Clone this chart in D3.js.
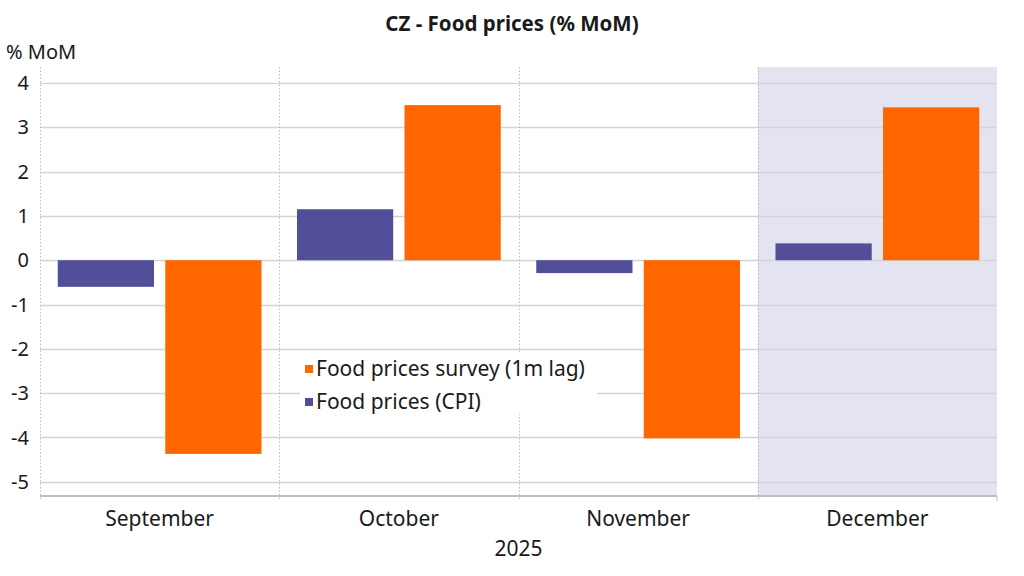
<!DOCTYPE html>
<html><head><meta charset="utf-8">
<script src="https://cdn.jsdelivr.net/npm/d3@7"></script>
<style>body{margin:0;background:#fff}svg{display:block}text{font-family:"Noto Sans",sans-serif;fill:#1a1a1a}</style>
</head><body><svg id="c" width="1024" height="576"></svg>
<script>
const categories = ["September","October","November","December"];
const seriesNames = ["Food prices (CPI)","Food prices survey (1m lag)"];
const cpiValues = [-0.6, 1.15, -0.29, 0.38];
const surveyValues = [-4.37, 3.5, -4.02, 3.45];
const yTicks = [4,3,2,1,0,-1,-2,-3,-4,-5];
const shadedCategories = ["December"];
const colors = ["#524E99","#FF6600"];

const svg = d3.select("#c");
const L=40, R=997, T=67, B=496;
const x = d3.scaleBand().domain(categories).range([L,R]).paddingInner(0).paddingOuter(0);
const xs = d3.scaleBand().domain(seriesNames).range([0,x.bandwidth()]).paddingInner(0.105).paddingOuter(0.165);
const y = d3.scaleLinear().domain([-5.32,4.36]).range([B,T]);

svg.selectAll("rect.shade").data(shadedCategories).join("rect")
  .attr("x",d=>x(d)).attr("y",T).attr("width",x.bandwidth()).attr("height",B-T).attr("fill","#E4E3F2");

svg.append("g").selectAll("line").data(yTicks).join("line")
  .attr("x1",L).attr("x2",R).attr("y1",d=>Math.round(y(d))+0.5).attr("y2",d=>Math.round(y(d))+0.5)
  .attr("stroke","#d4d4d4").attr("stroke-width",1.3);

const seps = [L].concat(categories.slice(1).map(c=>x(c)));
svg.append("g").selectAll("line").data(seps).join("line")
  .attr("x1",d=>Math.round(d)+0.5).attr("x2",d=>Math.round(d)+0.5).attr("y1",T).attr("y2",B+4)
  .attr("stroke","#bdbdbd").attr("stroke-width",1).attr("stroke-dasharray","1.5,2");

const data = categories.map((c,i)=>({c, vals:[cpiValues[i], surveyValues[i]]}));
const g = svg.append("g");
data.forEach(d=>{
  d.vals.forEach((v,j)=>{
    g.append("rect").attr("x",x(d.c)+xs(seriesNames[j])).attr("width",xs.bandwidth())
     .attr("y",y(Math.max(0,v))).attr("height",Math.abs(y(v)-y(0))).attr("fill",colors[j]);
  });
});

svg.append("line").attr("x1",L).attr("x2",R).attr("y1",B).attr("y2",B).attr("stroke","#bfbfbf").attr("stroke-width",2);
svg.append("line").attr("x1",R).attr("x2",R).attr("y1",B).attr("y2",B+5).attr("stroke","#bfbfbf").attr("stroke-width",1);

svg.append("g").selectAll("text").data(yTicks).join("text")
  .attr("x",29).attr("y",d=>y(d)).attr("dy","0.35em").attr("text-anchor","end")
  .style("font-size","20px").text(d=>d);

svg.append("g").selectAll("text").data(categories).join("text")
  .attr("x",d=>x(d)+x.bandwidth()/2).attr("y",519).attr("dy","0.35em").attr("text-anchor","middle")
  .style("font-size","21px").text(d=>d);
svg.append("text").attr("x",(L+R)/2).attr("y",549).attr("dy","0.35em").attr("text-anchor","middle").style("font-size","21px").text("2025");

svg.append("text").attr("x",512).attr("y",24).attr("dy","0.35em").attr("text-anchor","middle").style("font-size","20.5px").style("font-weight","bold").text("CZ - Food prices (% MoM)");
svg.append("text").attr("x",6).attr("y",52).attr("dy","0.35em").style("font-size","20px").text("% MoM");

const lg = svg.append("g");
lg.append("rect").attr("x",300).attr("y",352).attr("width",297).attr("height",62).attr("fill","#fff");
const legendItems = [{n:seriesNames[1],c:colors[1],yy:369},{n:seriesNames[0],c:colors[0],yy:402}];
legendItems.forEach(it=>{
  lg.append("rect").attr("x",305).attr("y",it.yy-4).attr("width",8).attr("height",8).attr("fill",it.c);
  lg.append("text").attr("x",316).attr("y",it.yy).attr("dy","0.35em").style("font-size","21px").text(it.n);
});
</script></body></html>
